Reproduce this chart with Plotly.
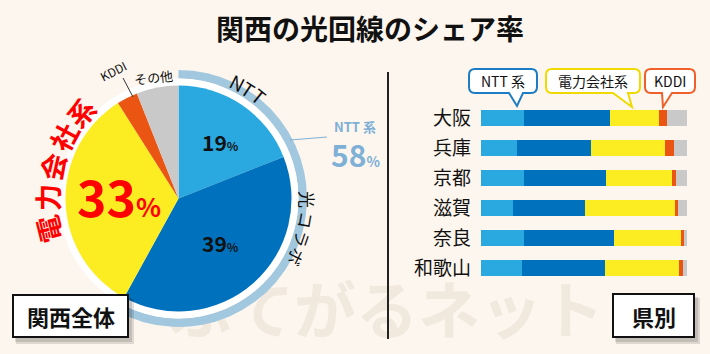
import plotly.graph_objects as go

W, H = 710, 354
BG = "#fdf6ee"
FONT = "Noto Sans CJK JP"

# ---- data ----
pie_labels = ["NTT", "光コラボ", "電力会社系", "KDDI", "その他"]
pie_values = [19, 39, 33, 3, 6]
colors = ["#29a9e0", "#0071bc", "#fcec22", "#ea5514", "#c9c9c9"]
ntt_share = 58

prefs = ["大阪", "兵庫", "京都", "滋賀", "奈良", "和歌山"]
s_ntt = [21.0, 17.5, 21.0, 15.3, 21.0, 20.0]
s_collab = [41.5, 36.0, 39.5, 35.2, 43.6, 40.0]
s_power = [24.0, 36.0, 32.0, 43.6, 32.3, 35.9]
s_kddi = [4.0, 4.2, 2.3, 1.3, 1.5, 2.0]
s_other = [9.5, 6.3, 5.2, 4.6, 1.6, 2.1]
bar_series = [s_ntt, s_collab, s_power, s_kddi, s_other]

title = "関西の光回線のシェア率"
watermark = "ぷてがるネット"

# ---- geometry helpers ----
CX, CY = 178.5, 198.5
R_PIE, R_WHITE, R_RING = 113, 120, 128.5


def dom(r):
    return dict(x=[(CX - r) / W, (CX + r) / W],
                y=[1 - (CY + r) / H, 1 - (CY - r) / H])


fig = go.Figure()

# watermark on a full-canvas pixel axis (below pie)
fig.add_trace(go.Scatter(x=[387], y=[318], mode="text", text=[watermark],
                         textfont=dict(family=FONT, size=62, color="#f1e8de", weight="bold"),
                         hoverinfo="skip", showlegend=False, xaxis="x", yaxis="y"))

# ring (NTT share)
fig.add_trace(go.Pie(values=[ntt_share, 100 - ntt_share], sort=False, direction="clockwise",
                     rotation=0, hole=R_WHITE / R_RING,
                     marker=dict(colors=["#a2c8df", "rgba(0,0,0,0)"], line=dict(width=0)),
                     textinfo="none", hoverinfo="skip", showlegend=False, domain=dom(R_RING)))
# white disc
fig.add_trace(go.Pie(values=[1], sort=False, marker=dict(colors=["#ffffff"], line=dict(width=0)),
                     textinfo="none", hoverinfo="skip", showlegend=False, domain=dom(R_WHITE)))
# main pie
fig.add_trace(go.Pie(labels=pie_labels, values=pie_values, sort=False, direction="clockwise",
                     rotation=0, marker=dict(colors=colors, line=dict(width=0)),
                     textinfo="none", hoverinfo="skip", showlegend=False, domain=dom(R_PIE)))

# stacked bars
for vals, col, name in zip(bar_series, colors, pie_labels):
    fig.add_trace(go.Bar(y=prefs, x=vals, orientation="h", marker=dict(color=col, line=dict(width=0)),
                         name=name, showlegend=False, hoverinfo="skip", xaxis="x2", yaxis="y2"))

# ---- annotations ----
ann = []


def A(x, y, text, size, color="#111", weight="normal", angle=0, xanchor="center"):
    ann.append(dict(x=x, y=y, xref="x", yref="y", text=text, showarrow=False,
                    xanchor=xanchor, yanchor="middle", textangle=angle,
                    font=dict(family=FONT, size=size, color=color, weight=weight)))


A(370, 28, title, 28, "#111", "bold")

# curved 電力会社系
for ch, (x, y, a) in zip("電力会社系", [(48, 230, -104), (47, 198, -90), (52, 167, -77),
                                      (63, 137, -62), (80, 112, -48)]):
    A(x, y, ch, 27, "#ff0000", "bold", a)
# curved 光コラボ
for ch, (x, y, a) in zip("光コラボ", [(308, 199, 90), (307, 220, 100), (303, 239, 109), (297, 257, 117)]):
    A(x, y, ch, 17, "#111", "normal", a)
# curved NTT
for ch, (x, y, a) in zip("NTT", [(238, 82, 27), (248, 88, 33), (259, 95, 39)]):
    A(x, y, ch, 19, "#111", "normal", a)

A(220, 142, "19<span style='font-size:12px'>%</span>", 21, "#111", "bold")
A(220, 243, "39<span style='font-size:12px'>%</span>", 21, "#111", "bold")
A(119, 195, "33<span style='font-size:26px'>%</span>", 50, "#ff0000", "bold")

A(332, 126, "NTT 系", 13, "#7fb0d6", "bold", xanchor="left")
A(329, 154, f"{ntt_share}<span style='font-size:14px'>%</span>", 30, "#7fb0d6", "bold", xanchor="left")

A(113, 70, "KDDI", 12, "#111", "normal", -27)
A(153, 77, "その他", 13, "#111", "normal", -6)

A(503, 81, "NTT 系", 14)
A(593, 81, "電力会社系", 14)
A(670, 81, "KDDI", 14)

A(71, 316, "関西全体", 22, "#111", "bold")
A(653.5, 315.5, "県別", 22, "#111", "bold")

# ---- shapes ----
shapes = []


def callout(x0, y0, x1, y1, r, tl, tr, tip, color):
    p = (f"M{x0 + r},{y0} L{x1 - r},{y0} Q{x1},{y0} {x1},{y0 + r} L{x1},{y1 - r} Q{x1},{y1} {x1 - r},{y1} "
         f"L{tr},{y1} L{tip[0]},{tip[1]} L{tl},{y1} "
         f"L{x0 + r},{y1} Q{x0},{y1} {x0},{y1 - r} L{x0},{y0 + r} Q{x0},{y0} {x0 + r},{y0} Z")
    shapes.append(dict(type="path", path=p, xref="x", yref="y", fillcolor="#ffffff",
                       line=dict(color=color, width=2), layer="above"))


callout(469, 69, 537, 93, 6, 509, 523, (517, 106), "#1c7cc4")
callout(546, 69, 640, 93, 6, 613, 628, (632, 107), "#f0d900")
callout(645, 69, 695, 93, 6, 662, 672, (663, 107), "#f0602a")


def box(x0, y0, x1, y1):
    shapes.append(dict(type="rect", x0=x0 + 3, y0=y0 + 4, x1=x1 + 6, y1=y1 + 7, xref="x", yref="y",
                       fillcolor="rgba(0,0,0,0.12)", line=dict(width=0), layer="above"))
    shapes.append(dict(type="rect", x0=x0 + 2, y0=y0 + 3, x1=x1 + 4, y1=y1 + 5, xref="x", yref="y",
                       fillcolor="rgba(0,0,0,0.12)", line=dict(width=0), layer="above"))
    shapes.append(dict(type="rect", x0=x0, y0=y0, x1=x1, y1=y1, xref="x", yref="y",
                       fillcolor="#ffffff", line=dict(color="#111", width=2), layer="above"))


box(13, 295, 128, 337)
box(613, 294, 694, 337)

# divider
shapes.append(dict(type="line", x0=388, y0=72, x1=388, y1=339, xref="x", yref="y",
                   line=dict(color="#222", width=2), layer="above"))
# leader lines
shapes.append(dict(type="line", x0=290, y0=140, x1=327, y1=137, xref="x", yref="y",
                   line=dict(color="#7fb0d6", width=1.2), layer="above"))
shapes.append(dict(type="line", x0=123, y0=78, x1=133, y1=97, xref="x", yref="y",
                   line=dict(color="#333", width=1), layer="above"))

fig.update_layout(
    width=W, height=H, margin=dict(l=0, r=0, t=0, b=0),
    paper_bgcolor=BG, plot_bgcolor="rgba(0,0,0,0)",
    barmode="stack", bargap=14 / 30,
    xaxis=dict(domain=[0, 1], range=[0, W], visible=False, fixedrange=True),
    yaxis=dict(domain=[0, 1], range=[H, 0], visible=False, fixedrange=True),
    xaxis2=dict(domain=[481 / W, 687 / W], range=[0, 100], visible=False, anchor="y2"),
    yaxis2=dict(domain=[1 - 283 / H, 1 - 103 / H], range=[5.5, -0.5], anchor="x2",
                showgrid=False, zeroline=False, showline=False, ticks="",
                ticklabelstandoff=9,
                tickfont=dict(family=FONT, size=19, color="#111")),
    annotations=ann, shapes=shapes, showlegend=False,
)

fig.write_html("out.html")
